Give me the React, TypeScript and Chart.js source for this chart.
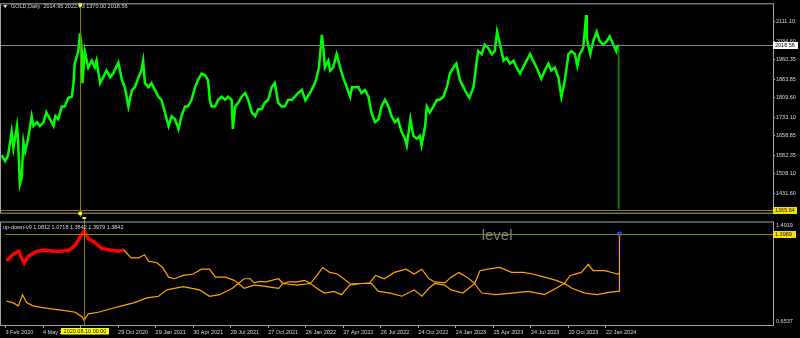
import React, { useEffect, useRef } from "react";
import { Chart, registerables } from "chart.js";
Chart.register(...registerables);

// ---------- texts ----------
const SYMBOL = "GOLD,Daily";
const HEADER_OHLC = ["2014.95", "2022.73", "1370.00", "2018.56"];
const IND_NAME = "up-down-v9";
const IND_VALUES = ["1.0812", "1.0718", "1.3842", "1.3979", "1.3842"];
const LEVEL_TEXT = "level";
const VLINE_LABEL = "2020.08.10 00:00";

// ---------- price data (x = trading-day index from 3 Feb 2020) ----------
const priceDays = [
  1, 7, 12, 18, 21, 27, 29, 32, 35, 38, 41, 46, 52, 55, 61, 66, 72, 77, 83, 89, 92, 97, 103, 108, 114, 120, 123, 125, 131, 134,
  137, 138, 142, 148, 154, 159, 162, 168, 173, 179, 185, 190, 199, 205, 210, 216, 222, 227, 233, 238, 241, 244, 250, 255, 261,
  267, 272, 278, 284, 289, 295, 301, 306, 312, 317, 323, 329, 334, 340, 346, 351, 354, 357, 363, 368, 374, 380, 385, 391, 393,
  397, 402, 408, 414, 419, 425, 431, 436, 442, 447, 453, 459, 464, 470, 476, 481, 487, 493, 498, 504, 510, 516, 524, 529, 534,
  539, 544, 547, 549, 555, 558, 563, 569, 575, 580, 586, 592, 595, 600, 606, 611, 617, 623, 628, 634, 640, 645, 651, 657, 662,
  668, 673, 679, 685, 688, 694, 699, 705, 710, 713, 719, 722, 727, 733, 739, 744, 750, 756, 761, 767, 772, 778, 784, 789, 794,
  801, 806, 809, 815, 820, 826, 832, 837, 841, 846, 852, 857, 863, 869, 874, 880, 885, 891, 897, 902, 908, 916, 922, 928, 933,
  939, 945, 950, 956, 962, 967, 973, 977, 981, 987, 992, 993, 999, 1004, 1010, 1015, 1021, 1027, 1032, 1038, 1043, 1045,
];
const priceClose = [
  1582, 1559, 1582, 1675, 1609, 1698, 1636, 1467, 1493, 1636, 1597, 1648, 1737, 1698, 1713, 1698, 1713, 1752, 1725, 1698, 1737,
  1725, 1775, 1775, 1810, 1814, 1868, 1945, 1995, 2065, 1995, 1868, 1995, 1930, 1957, 1930, 1957, 1868, 1891, 1918, 1891, 1906,
  1949, 1880, 1852, 1775, 1841, 1852, 1891, 1918, 1957, 1868, 1852, 1868, 1841, 1814, 1802, 1752, 1698, 1737, 1725, 1686, 1737,
  1775, 1775, 1802, 1852, 1880, 1906, 1899, 1880, 1802, 1775, 1775, 1802, 1814, 1802, 1814, 1802, 1686, 1775, 1790, 1814, 1829,
  1802, 1752, 1737, 1764, 1764, 1790, 1802, 1852, 1868, 1790, 1775, 1775, 1802, 1802, 1814, 1829, 1841, 1800, 1829, 1852, 1880,
  1930, 2059, 1995, 1930, 1957, 1918, 1930, 1983, 1930, 1891, 1852, 1814, 1852, 1852, 1852, 1829, 1841, 1814, 1752, 1713, 1725,
  1775, 1802, 1775, 1737, 1713, 1725, 1675, 1648, 1621, 1725, 1659, 1648, 1659, 1621, 1698, 1775, 1752, 1775, 1802, 1802, 1814,
  1852, 1906, 1930, 1945, 1880, 1852, 1829, 1810, 1852, 1945, 1995, 1983, 2021, 2007, 1983, 1995, 2072, 2021, 1957, 1968, 1945,
  1957, 1930, 1906, 1930, 1957, 1983, 1957, 1930, 1885, 1918, 1945, 1918, 1930, 1891, 1814, 1880, 1983, 1995, 1983, 1937, 1983,
  2007, 2138, 2045, 1983, 2034, 2072, 2034, 2021, 2034, 2053, 2021, 1995, 2018.56,
];
const lastBarDay = 1047;
const lastBarHigh = 2022.73;
const lastBarLow = 1370.0;
const bidPrice = 2018.56;
const hLinePrice = 1365.64;
const priceTicks = [2111.1, 2034.6, 1960.35, 1883.85, 1809.6, 1733.1, 1658.85, 1582.35, 1508.1, 1431.6, 1357.35];
const priceMin = 1354.3;
const priceMax = 2180.6;

// ---------- time axis ----------
const dayMax = 1308.8;
const timeTickDays = [0, 64, 128, 192, 256, 320, 384, 448, 512, 576, 640, 704, 768, 832, 896, 960, 1024];
const timeTickLabels = [
  "3 Feb 2020", "4 May 2020", "3 Aug 2020", "29 Oct 2020", "29 Jan 2021", "30 Apr 2021", "29 Jul 2021", "27 Oct 2021",
  "26 Jan 2022", "27 Apr 2022", "26 Jul 2022", "24 Oct 2022", "24 Jan 2023", "25 Apr 2023", "24 Jul 2023", "20 Oct 2023",
  "22 Jan 2024",
];
const vLineDay = 134;

// ---------- indicator data ----------
const upDays = [
  2, 12, 22, 32, 39, 54, 68, 81, 95, 109, 119, 127, 134, 141, 151, 164, 178, 192, 202, 214, 227, 237, 244, 258, 268, 278, 288,
  303, 320, 334, 348, 358, 375, 390, 397, 407, 417, 424, 434, 444, 454, 466, 473, 483, 497, 510, 520, 531, 541, 553, 566, 580,
  587, 607, 621, 631, 646, 663, 683, 697, 710, 722, 732, 749, 760, 773, 787, 800, 809, 822, 843, 863, 883, 899, 919, 939, 953,
  963, 982, 994, 1002, 1022, 1043, 1047, 1047,
];
const upVals = [
  1.178, 1.228, 1.257, 1.16, 1.217, 1.257, 1.267, 1.257, 1.257, 1.267, 1.306, 1.372, 1.424, 1.359, 1.333, 1.28, 1.267, 1.257,
  1.267, 1.202, 1.202, 1.228, 1.176, 1.163, 1.124, 1.045, 1.032, 1.059, 1.071, 1.11, 1.11, 1.045, 1.045, 1.019, 0.993, 1.032,
  1.032, 0.998, 1.011, 1.006, 1.019, 1.032, 0.993, 1.006, 1.006, 1.019, 0.993, 1.059, 1.124, 1.084, 1.071, 1.019, 0.995, 0.993,
  0.998, 1.059, 1.032, 1.084, 1.11, 1.071, 1.11, 1.032, 1.006, 0.998, 1.045, 1.084, 1.045, 0.993, 1.098, 1.11, 1.124, 1.084,
  1.084, 1.071, 1.045, 1.019, 0.993, 1.059, 1.084, 1.15, 1.098, 1.098, 1.071, 1.071, 1.3989,
];
const redEndDay = 202;
const dnDays = [
  2, 12, 22, 29, 36, 47, 61, 81, 102, 119, 131, 134, 141, 158, 178, 198, 220, 241, 261, 275, 303, 331, 348, 365, 387, 397, 407,
  424, 441, 454, 466, 473, 497, 520, 531, 544, 560, 573, 587, 607, 624, 636, 656, 676, 697, 710, 722, 732, 749, 760, 780, 800,
  812, 836, 863, 892, 919, 939, 953, 966, 988, 1009, 1029, 1043, 1047, 1047,
];
const dnVals = [
  0.8495, 0.8365, 0.8103, 0.9017, 0.8365, 0.8103, 0.7973, 0.7842, 0.7712, 0.7581, 0.719, 0.6928, 0.7451, 0.7581, 0.7842, 0.8103,
  0.8365, 0.8756, 0.8887, 0.9409, 0.967, 0.9409, 0.8887, 0.9017, 0.954, 0.993, 0.954, 0.98, 0.972, 0.962, 0.954, 0.993, 0.98,
  0.993, 0.954, 0.9148, 0.9279, 0.9017, 0.98, 0.993, 0.993, 0.928, 0.915, 0.889, 0.941, 0.889, 0.954, 0.993, 0.98, 0.941, 0.915,
  0.993, 0.915, 0.902, 0.915, 0.928, 0.902, 0.954, 0.993, 0.954, 0.915, 0.902, 0.92, 0.928, 0.928, 1.07,
];
const indMin = 0.6537;
const indMax = 1.4919;
const levelValue = 1.3989;
const levelTextDay = 812;

// ---------- style ----------
const FONT = "'Liberation Sans', Arial, sans-serif";
const FS = 5.5;
const TXT = "#d8d8d8";
const GRAY = "#a4a4a4";
const OLIVE = "#8f7d00";
const YELLOW = "#f2e200";
const AXIS_W = 27;

function hline(c: CanvasRenderingContext2D, x1: number, x2: number, y: number) {
  c.beginPath();
  c.moveTo(x1, y);
  c.lineTo(x2, y);
  c.stroke();
}
function vline(c: CanvasRenderingContext2D, x: number, y1: number, y2: number) {
  c.beginPath();
  c.moveTo(x, y1);
  c.lineTo(x, y2);
  c.stroke();
}
function box(c: CanvasRenderingContext2D, x: number, yc: number, w: number, bg: string, fg: string, text: string) {
  c.fillStyle = bg;
  c.fillRect(x, yc - 3.5, w, 7);
  c.fillStyle = fg;
  c.textAlign = "left";
  c.textBaseline = "middle";
  c.fillText(text, x + 2, yc + 0.3);
}

const bgPlugin = {
  id: "mtBg",
  beforeDraw(chart: any) {
    const c = chart.ctx;
    c.save();
    c.fillStyle = "#000";
    c.fillRect(0, 0, chart.width, chart.height);
    c.restore();
  },
};

const mainDecor = {
  id: "mainDecor",
  afterDraw(chart: any) {
    const c: CanvasRenderingContext2D = chart.ctx;
    const { left, right, top, bottom } = chart.chartArea;
    const xs = chart.scales.x;
    const ys = chart.scales.y;
    c.save();
    c.font = `${FS}px ${FONT}`;
    // header
    c.fillStyle = TXT;
    c.beginPath();
    c.moveTo(3, 5);
    c.lineTo(7.5, 5);
    c.lineTo(5.25, 8);
    c.closePath();
    c.fill();
    c.textAlign = "left";
    c.textBaseline = "middle";
    c.fillText(`${SYMBOL}  ${HEADER_OHLC.join(" ")}`, 11, 6.5);
    // bid line
    const yb = Math.round(ys.getPixelForValue(bidPrice)) + 0.5;
    c.lineWidth = 1;
    c.strokeStyle = "#7a8796";
    hline(c, left, right, yb);
    // horizontal object
    const yh = Math.round(ys.getPixelForValue(hLinePrice)) + 0.5;
    c.strokeStyle = OLIVE;
    hline(c, left, right, yh);
    // vertical object
    const xv = Math.round(xs.getPixelForValue(vLineDay)) + 0.5;
    vline(c, xv, top, chart.height);
    // border
    c.strokeStyle = GRAY;
    c.strokeRect(0.5, top - 0.5, right, bottom - top + 1);
    // labels
    box(c, right, yb, 25, "#ffffff", "#000000", bidPrice.toFixed(2));
    box(c, right, yh, 24, YELLOW, "#202020", hLinePrice.toFixed(2));
    // handles
    c.fillStyle = "#ffff00";
    c.fillRect(xv - 2, top - 1, 3.5, 3.5);
    c.fillRect(xv - 2, bottom - 1, 3.5, 3.5);
    c.restore();
  },
};

const indDecor = {
  id: "indDecor",
  afterDraw(chart: any) {
    const c: CanvasRenderingContext2D = chart.ctx;
    const { left, right, top, bottom } = chart.chartArea;
    const xs = chart.scales.x;
    const ys = chart.scales.y;
    c.save();
    c.lineWidth = 1;
    // level line
    const yl = Math.round(ys.getPixelForValue(levelValue)) + 0.5;
    c.strokeStyle = OLIVE;
    hline(c, left, right, yl);
    // level text
    c.fillStyle = "#808080";
    c.font = `15px ${FONT}`;
    c.textAlign = "left";
    c.textBaseline = "alphabetic";
    c.fillText(LEVEL_TEXT, xs.getPixelForValue(levelTextDay), yl + 5.5);
    // vertical
    const xv = Math.round(xs.getPixelForValue(vLineDay)) + 0.5;
    c.strokeStyle = OLIVE;
    vline(c, xv, 0, bottom);
    // border
    c.strokeStyle = GRAY;
    c.strokeRect(0.5, top - 0.5, right, bottom - top + 1);
    // name text
    c.font = `${FS}px ${FONT}`;
    c.fillStyle = TXT;
    c.textBaseline = "middle";
    c.fillText(`${IND_NAME} ${IND_VALUES.join(" ")}`, 3, top + 4.5);
    // scale labels
    c.fillText(indMax.toFixed(4), right + 3, top + 3);
    c.fillText(indMin.toFixed(4), right + 3, bottom - 3.5);
    box(c, right, yl, 23, YELLOW, "#202020", levelValue.toFixed(4));
    // handle
    c.fillStyle = "#ffff00";
    c.fillRect(xv - 2, -0.5, 3.5, 2.5);
    // time label of vertical line
    c.fillStyle = "#ffff00";
    c.fillRect(xv - 23.5, bottom + 3, 48, 6.5);
    c.fillStyle = "#000";
    c.textAlign = "center";
    c.fillText(VLINE_LABEL, xv + 0.5, bottom + 6.4);
    c.restore();
  },
};

export default function App() {
  const mainRef = useRef<HTMLCanvasElement>(null);
  const indRef = useRef<HTMLCanvasElement>(null);

  useEffect(() => {
    const pricePts = priceDays.map((d, i) => ({ x: d, y: priceClose[i] }));
    const upPts = upDays.map((d, i) => ({ x: d, y: upVals[i] }));
    const redPts = upPts.filter((p) => p.x <= redEndDay);
    const dnPts = dnDays.map((d, i) => ({ x: d, y: dnVals[i] }));

    const main = new Chart(mainRef.current!, {
      type: "line",
      data: {
        datasets: [
          {
            data: pricePts,
            borderColor: "#00ff00",
            borderWidth: 2.5,
            pointRadius: 0,
            tension: 0,
            order: 1,
          },
          {
            data: [
              { x: lastBarDay, y: lastBarHigh },
              { x: lastBarDay, y: lastBarLow },
            ],
            borderColor: "#236b1c",
            borderWidth: 2,
            pointRadius: 0,
            order: 2,
          },
        ],
      },
      options: {
        animation: false,
        responsive: false,
        devicePixelRatio: 1,
        layout: { padding: { left: 1, top: 2, bottom: 1, right: 0 } },
        plugins: { legend: { display: false }, tooltip: { enabled: false } },
        events: [],
        scales: {
          x: { type: "linear", min: 0, max: dayMax, display: false },
          y: {
            position: "right",
            min: priceMin,
            max: priceMax,
            afterFit: (s: any) => {
              s.width = AXIS_W;
            },
            afterBuildTicks: (s: any) => {
              s.ticks = priceTicks.map((v) => ({ value: v }));
            },
            ticks: {
              font: { family: FONT, size: FS },
              color: TXT,
              padding: 1,
              callback: (v: any) => Number(v).toFixed(2),
            },
            grid: { drawOnChartArea: false, drawTicks: true, tickLength: 2, color: GRAY },
            border: { display: false },
          },
        },
      },
      plugins: [bgPlugin, mainDecor],
    });

    const ind = new Chart(indRef.current!, {
      type: "line",
      data: {
        datasets: [
          {
            type: "scatter",
            data: [{ x: lastBarDay, y: levelValue }],
            pointStyle: "star",
            pointRadius: 2.5,
            borderColor: "#1e3cff",
            backgroundColor: "#1e3cff",
            borderWidth: 1.5,
            order: 0,
          } as any,
          {
            data: redPts,
            borderColor: "#ff0000",
            borderWidth: 3.5,
            pointRadius: 0,
            order: 1,
          },
          {
            data: upPts,
            borderColor: "#ffa500",
            borderWidth: 1.2,
            pointRadius: 0,
            order: 2,
          },
          {
            data: dnPts,
            borderColor: "#ffa500",
            borderWidth: 1.2,
            pointRadius: 0,
            order: 3,
          },
        ],
      },
      options: {
        animation: false,
        responsive: false,
        devicePixelRatio: 1,
        layout: { padding: { left: 1, top: 2, bottom: 0, right: 0 } },
        plugins: { legend: { display: false }, tooltip: { enabled: false } },
        events: [],
        scales: {
          x: {
            type: "linear",
            min: 0,
            max: dayMax,
            afterFit: (s: any) => {
              s.height = 13;
            },
            afterBuildTicks: (s: any) => {
              s.ticks = timeTickDays.map((v) => ({ value: v }));
            },
            ticks: {
              font: { family: FONT, size: FS },
              color: TXT,
              align: "start",
              padding: 1,
              autoSkip: false,
              maxRotation: 0,
              minRotation: 0,
              callback: (v: any) => {
                const i = timeTickDays.indexOf(Number(v));
                return i >= 0 ? timeTickLabels[i] : "";
              },
            },
            grid: { drawOnChartArea: false, drawTicks: true, tickLength: 3, color: GRAY },
            border: { display: false },
          },
          y: {
            position: "right",
            min: indMin,
            max: indMax,
            afterFit: (s: any) => {
              s.width = AXIS_W;
            },
            ticks: { display: false },
            grid: { display: false },
            border: { display: false },
          },
        },
      },
      plugins: [bgPlugin, indDecor],
    });

    return () => {
      main.destroy();
      ind.destroy();
    };
  }, []);

  return (
    <div
      style={{
        position: "absolute",
        left: 0,
        top: 0,
        width: 800,
        height: 338,
        background: "#000",
        overflow: "hidden",
      }}
    >
      <canvas
        ref={mainRef}
        width={800}
        height={217}
        style={{ position: "absolute", left: 0, top: 0, width: 800, height: 217, display: "block" }}
      />
      <canvas
        ref={indRef}
        width={800}
        height={121}
        style={{ position: "absolute", left: 0, top: 217, width: 800, height: 121, display: "block" }}
      />
    </div>
  );
}
